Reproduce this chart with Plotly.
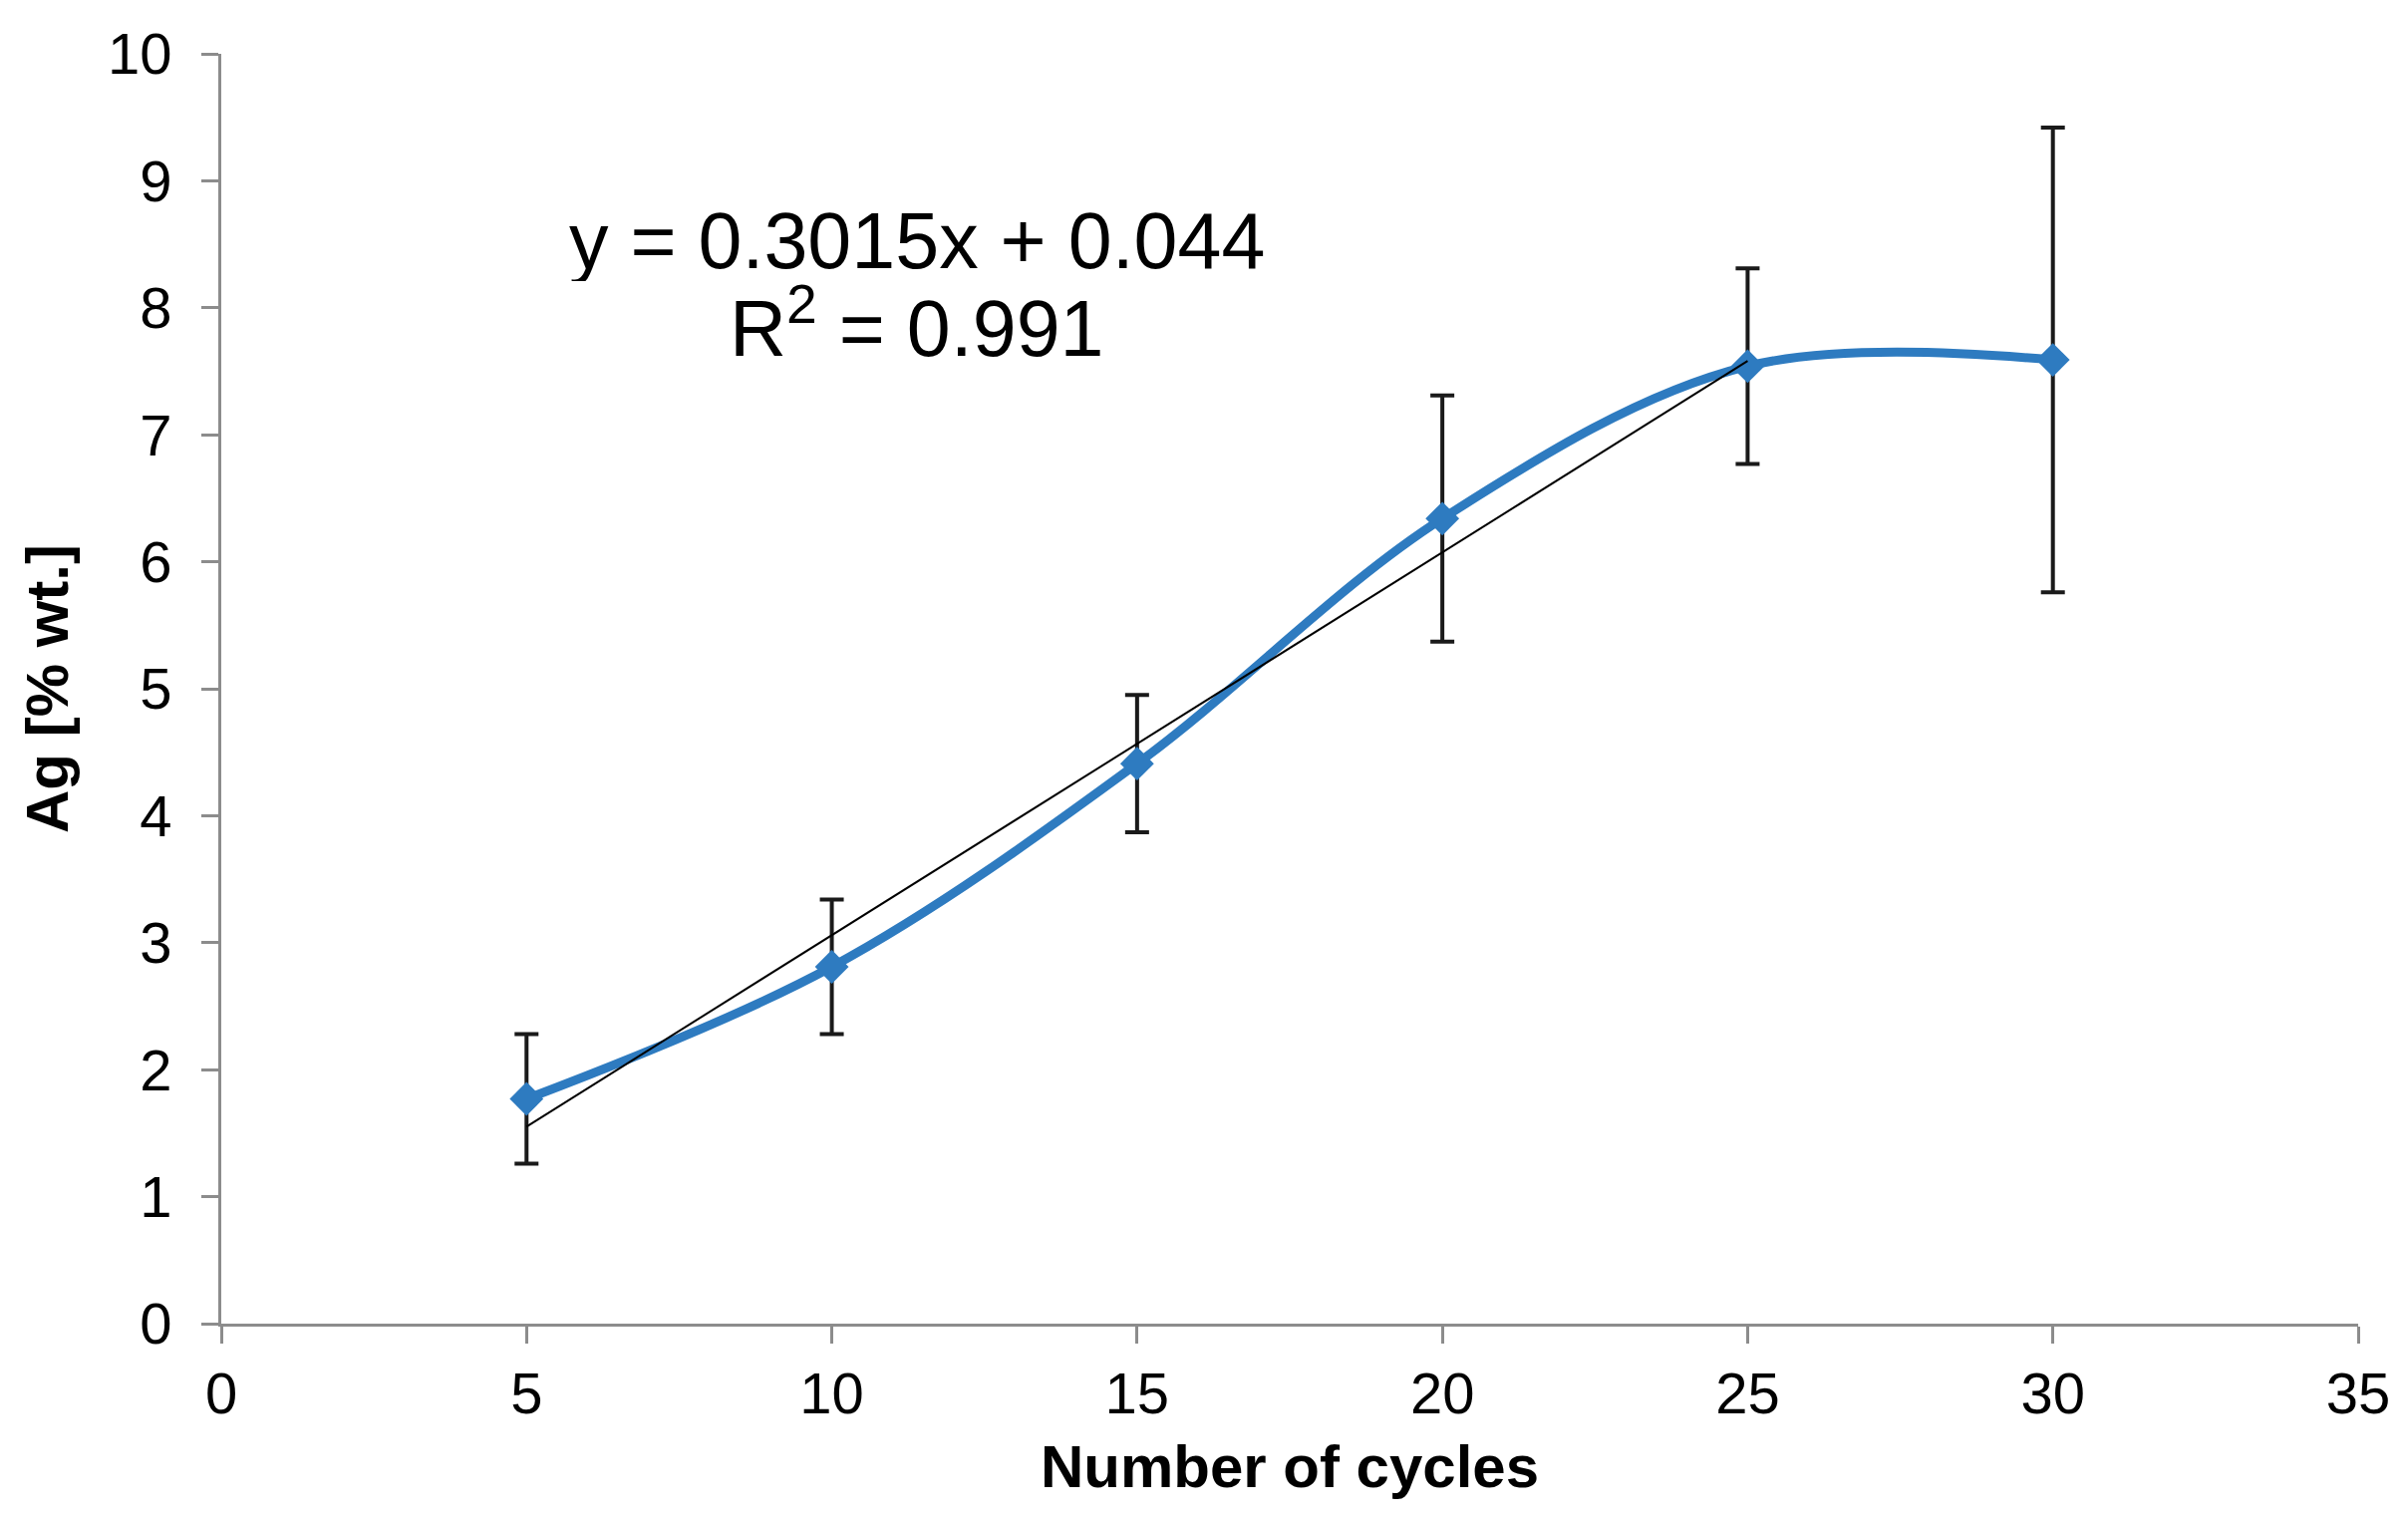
import plotly.graph_objects as go

# Data
cycles = [5, 10, 15, 20, 25, 30]
ag_wt = [1.77, 2.81, 4.41, 6.34, 7.54, 7.59]
ag_err = [0.51, 0.53, 0.54, 0.97, 0.77, 1.83]

# Linear trendline (as shown in the chart), fitted over cycles 5..25
trend_slope = 0.3015
trend_intercept = 0.044
trend_x = [5, 25]

x_ticks = [0, 5, 10, 15, 20, 25, 30, 35]
y_ticks = [0, 1, 2, 3, 4, 5, 6, 7, 8, 9, 10]

eq_line1 = "y = 0.3015x + 0.044"
eq_line2 = "R<sup>2</sup> = 0.991"

FONT = "Liberation Sans, Arial, sans-serif"
BLUE = "#2E7BC0"
AXIS = "#8C8C8C"

fig = go.Figure()

fig.add_trace(go.Scatter(
    x=cycles, y=ag_wt,
    mode="lines+markers",
    line=dict(color=BLUE, width=9, shape="spline", smoothing=1.0),
    marker=dict(symbol="diamond", size=26, color=BLUE),
    error_y=dict(type="data", array=ag_err, visible=True,
                 color="#1a1a1a", thickness=4, width=12),
    showlegend=False,
))

fig.add_trace(go.Scatter(
    x=trend_x, y=[trend_slope * v + trend_intercept for v in trend_x],
    mode="lines",
    line=dict(color="#000000", width=2),
    showlegend=False,
))

fig.add_annotation(x=11.40, y=8.53, xref="x", yref="y", text=eq_line1,
                   showarrow=False, xanchor="center", yanchor="middle",
                   height=82, valign="middle",
                   font=dict(family=FONT, size=79, color="#000000"))
fig.add_annotation(x=11.40, y=7.88, xref="x", yref="y", text=eq_line2,
                   showarrow=False, xanchor="center", yanchor="middle",
                   height=82, valign="middle",
                   font=dict(family=FONT, size=79, color="#000000"))

axis_common = dict(
    showgrid=False, zeroline=False,
    showline=True, linecolor=AXIS, linewidth=3,
    ticks="outside", ticklen=17, tickwidth=3, tickcolor=AXIS,
    tickfont=dict(family=FONT, size=58, color="#000000"),
)

fig.update_xaxes(range=[0, 35], tickvals=x_ticks,
                 title=dict(text="<b>Number of cycles</b>", standoff=22,
                            font=dict(family=FONT, size=60, color="#000000")),
                 **axis_common)
fig.update_yaxes(range=[0, 10], tickvals=y_ticks,
                 title=dict(text="<b>Ag [% wt.]</b>", standoff=20,
                            font=dict(family=FONT, size=60, color="#000000")),
                 ticklabelstandoff=18,
                 **axis_common)

fig.update_layout(
    width=2416, height=1524,
    margin=dict(l=214, r=58, t=46, b=204, autoexpand=False),
    paper_bgcolor="white", plot_bgcolor="white",
    font=dict(family=FONT),
)

fig.write_html("out.html")
